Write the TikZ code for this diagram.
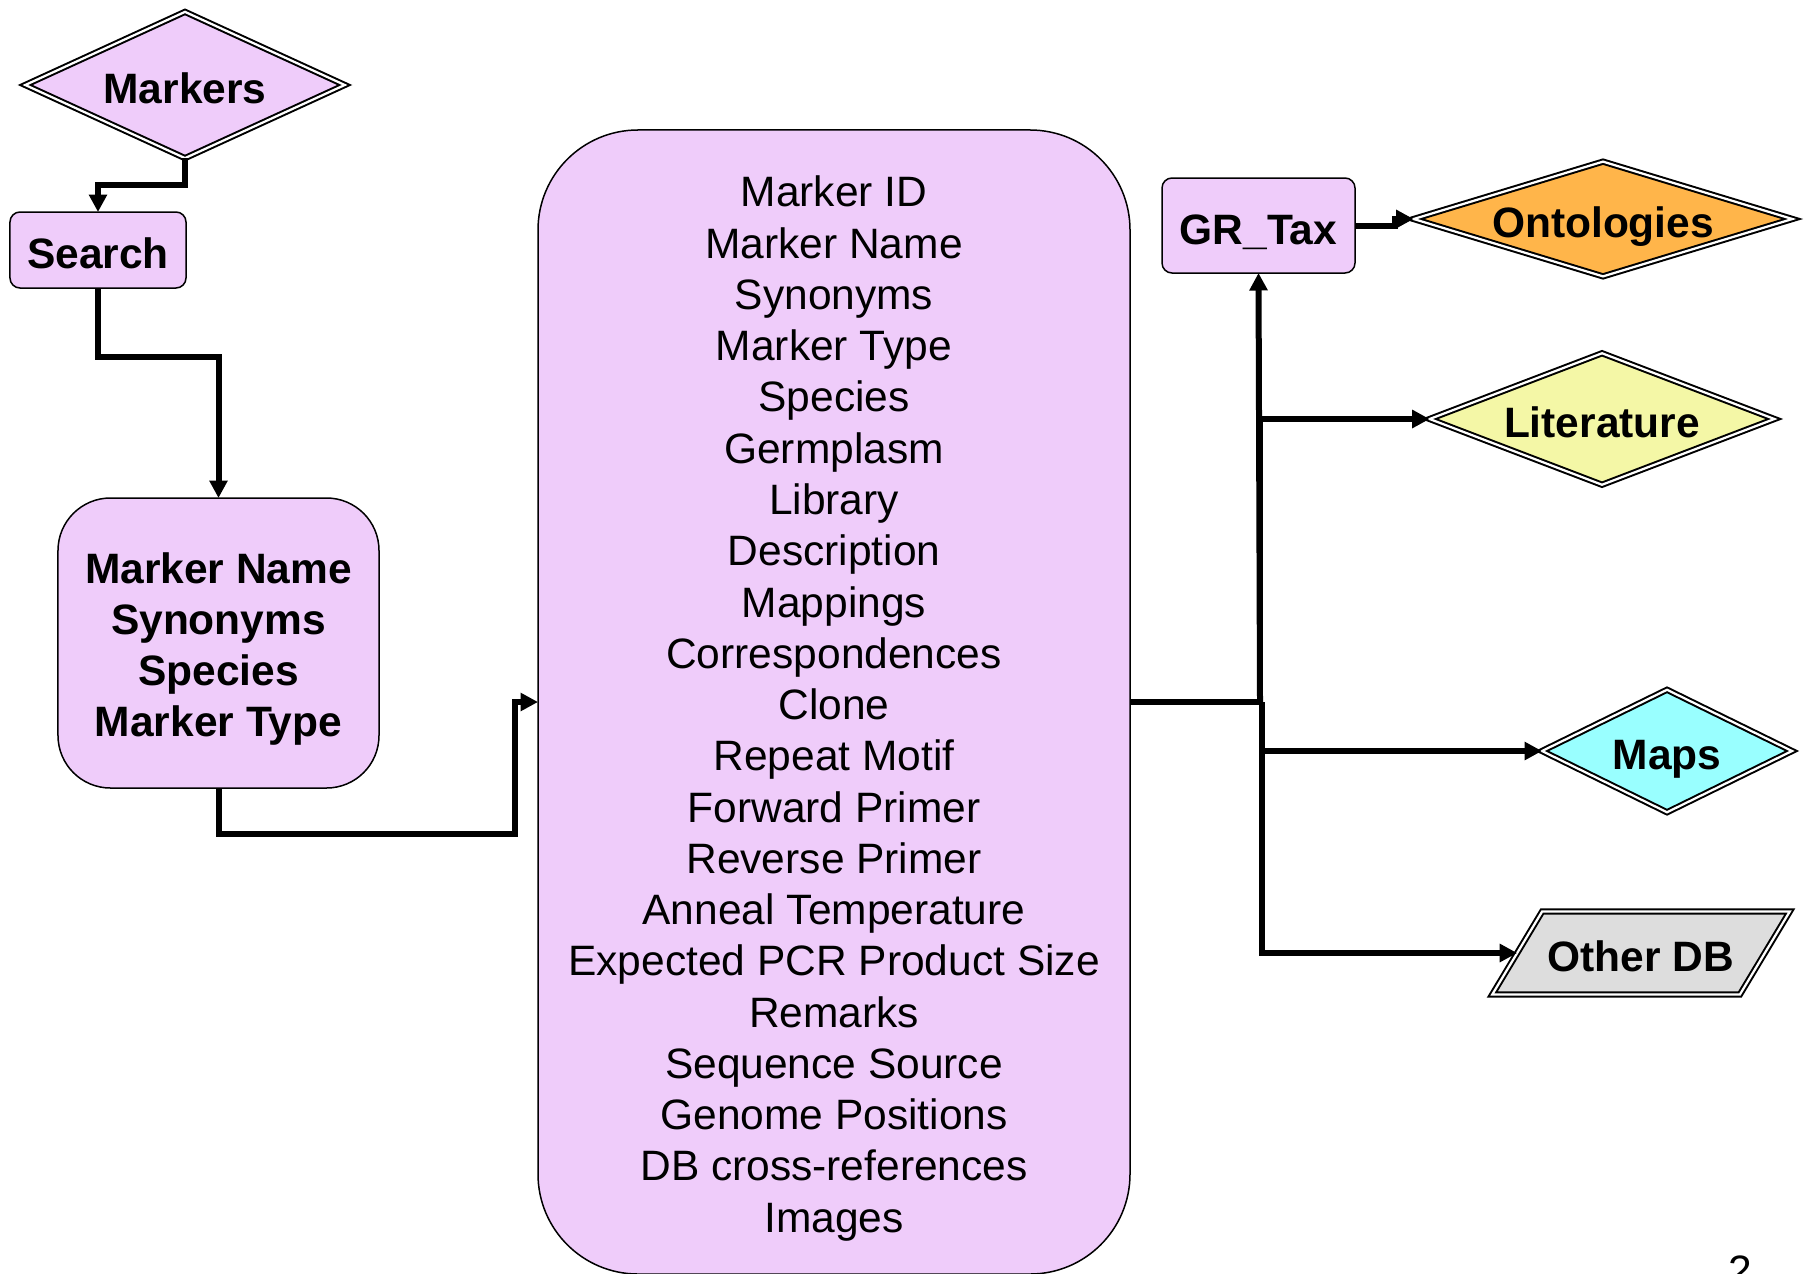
\documentclass[tikz,border=0pt]{standalone}
\usepackage{fontspec}
\setmainfont{Liberation Sans}
\usetikzlibrary{shapes.geometric, arrows.meta}

\definecolor{lilac}{RGB}{239,204,250}
\definecolor{ontoorange}{RGB}{255,181,74}
\definecolor{lityellow}{RGB}{244,247,166}
\definecolor{mapcyan}{RGB}{153,255,255}
\definecolor{dbgray}{RGB}{221,221,221}

\begin{document}
\begin{tikzpicture}
    [x = 0.4pt, y = -0.4pt, outer sep = 0pt,
    component/.style={rectangle, draw=black, fill = lilac, line width =
      0.6pt, rounded corners = 4pt, inner sep = 0pt, align = center,
      font = \fontsize{17pt}{20.5pt}\selectfont\bfseries},
    datasource/.style={diamond, draw=black, double = white, double
      distance = 0.9pt, line width = 0.8pt, inner sep = 0pt,
      font = \fontsize{17pt}{20.5pt}\selectfont\bfseries},
    oneline/.style={text height = 17pt, text depth = 2pt},
    link/.style={line width = 2.4pt, -{Triangle[length = 7pt, width = 7pt]}}]

    \useasboundingbox (0,0) rectangle (1804,1273);

    \node [datasource, oneline, fill = lilac, aspect = 2.2, minimum
    width = 127.8pt, minimum height = 58.5pt] (markers) at (185,85) {Markers};
    \node [component, oneline, minimum width = 70.4pt, minimum height =
    30.4pt] (search) at (98,250) {Search};
    \node [component, rounded corners = 21pt, minimum width = 128.4pt,
    minimum height = 116pt, label={[yshift = -2.4pt, align = center,
      font = \fontsize{17pt}{20.5pt}\selectfont\bfseries]center:Marker
      Name\\Synonyms\\Species\\Marker Type}] (query) at (218.5,643) {};

    \node [component, rounded corners = 40pt, minimum width = 236.8pt,
    minimum height = 457.6pt, label={[yshift = -2.6pt, align = center,
      font = \fontsize{17pt}{20.5pt}\selectfont]center:Marker ID\\Marker
      Name\\Synonyms\\Marker Type\\Species\\Germplasm\\Library\\
      Description\\Mappings\\Correspondences\\Clone\\Repeat Motif\\
      Forward Primer\\Reverse Primer\\Anneal Temperature\\Expected PCR
      Product Size\\Remarks\\Sequence Source\\Genome Positions\\DB
      cross-references\\Images}] (detail) at (834,702) {};

    \node [component, oneline, minimum width = 77.2pt, minimum height =
    38pt] (grtax) at (1258.5,225.5) {GR\_Tax};
    \node [datasource, oneline, fill = ontoorange, aspect = 3.3, minimum
    width = 150.4pt, minimum height = 45.6pt] (ontologies) at (1603,219)
    {Ontologies};
    \node [datasource, oneline, fill = lityellow, aspect = 2.64, minimum
    width = 137.9pt, minimum height = 52.6pt] (literature) at (1602,419)
    {Literature};
    \node [datasource, oneline, fill = mapcyan, aspect = 2.06, minimum
    width = 100pt, minimum height = 49pt] (maps) at (1667,751) {Maps};
    \node [datasource, oneline, trapezium, trapezium left angle = 59,
    trapezium right angle = 121, trapezium stretches body, fill = dbgray,
    inner xsep = 0pt, inner ysep = 7.1pt, minimum width = 119pt]
    (otherdb) at (1641,953) {Other DB};

    \node [anchor = north, inner sep = 0pt, font =
    \fontsize{17pt}{20.5pt}\selectfont] (pageno) at (1740,1256) {2};

    \draw [link] (markers.south) -- ++(0,27) -| (search.north);
    \draw [link] (search.south) -- ++(0,69) -| (query.north);
    \draw [link] (query.south) -- ++(0,46) -- ++(296,0) |- (detail.west);

    \coordinate (hub) at (1260,702);
    \coordinate (lowhub) at (1262,702);
    \draw [link, -] (detail.east) -- (hub);
    \draw [link] (hub) -- (grtax.south);
    \draw [link] (hub) |- (literature.west);
    \draw [link] (lowhub) |- (maps.west);
    \draw [link] (lowhub) |- (otherdb.west);
    \draw [link] (grtax.east) -- ++(40,0) |- (ontologies.west);
\end{tikzpicture}
\end{document}
